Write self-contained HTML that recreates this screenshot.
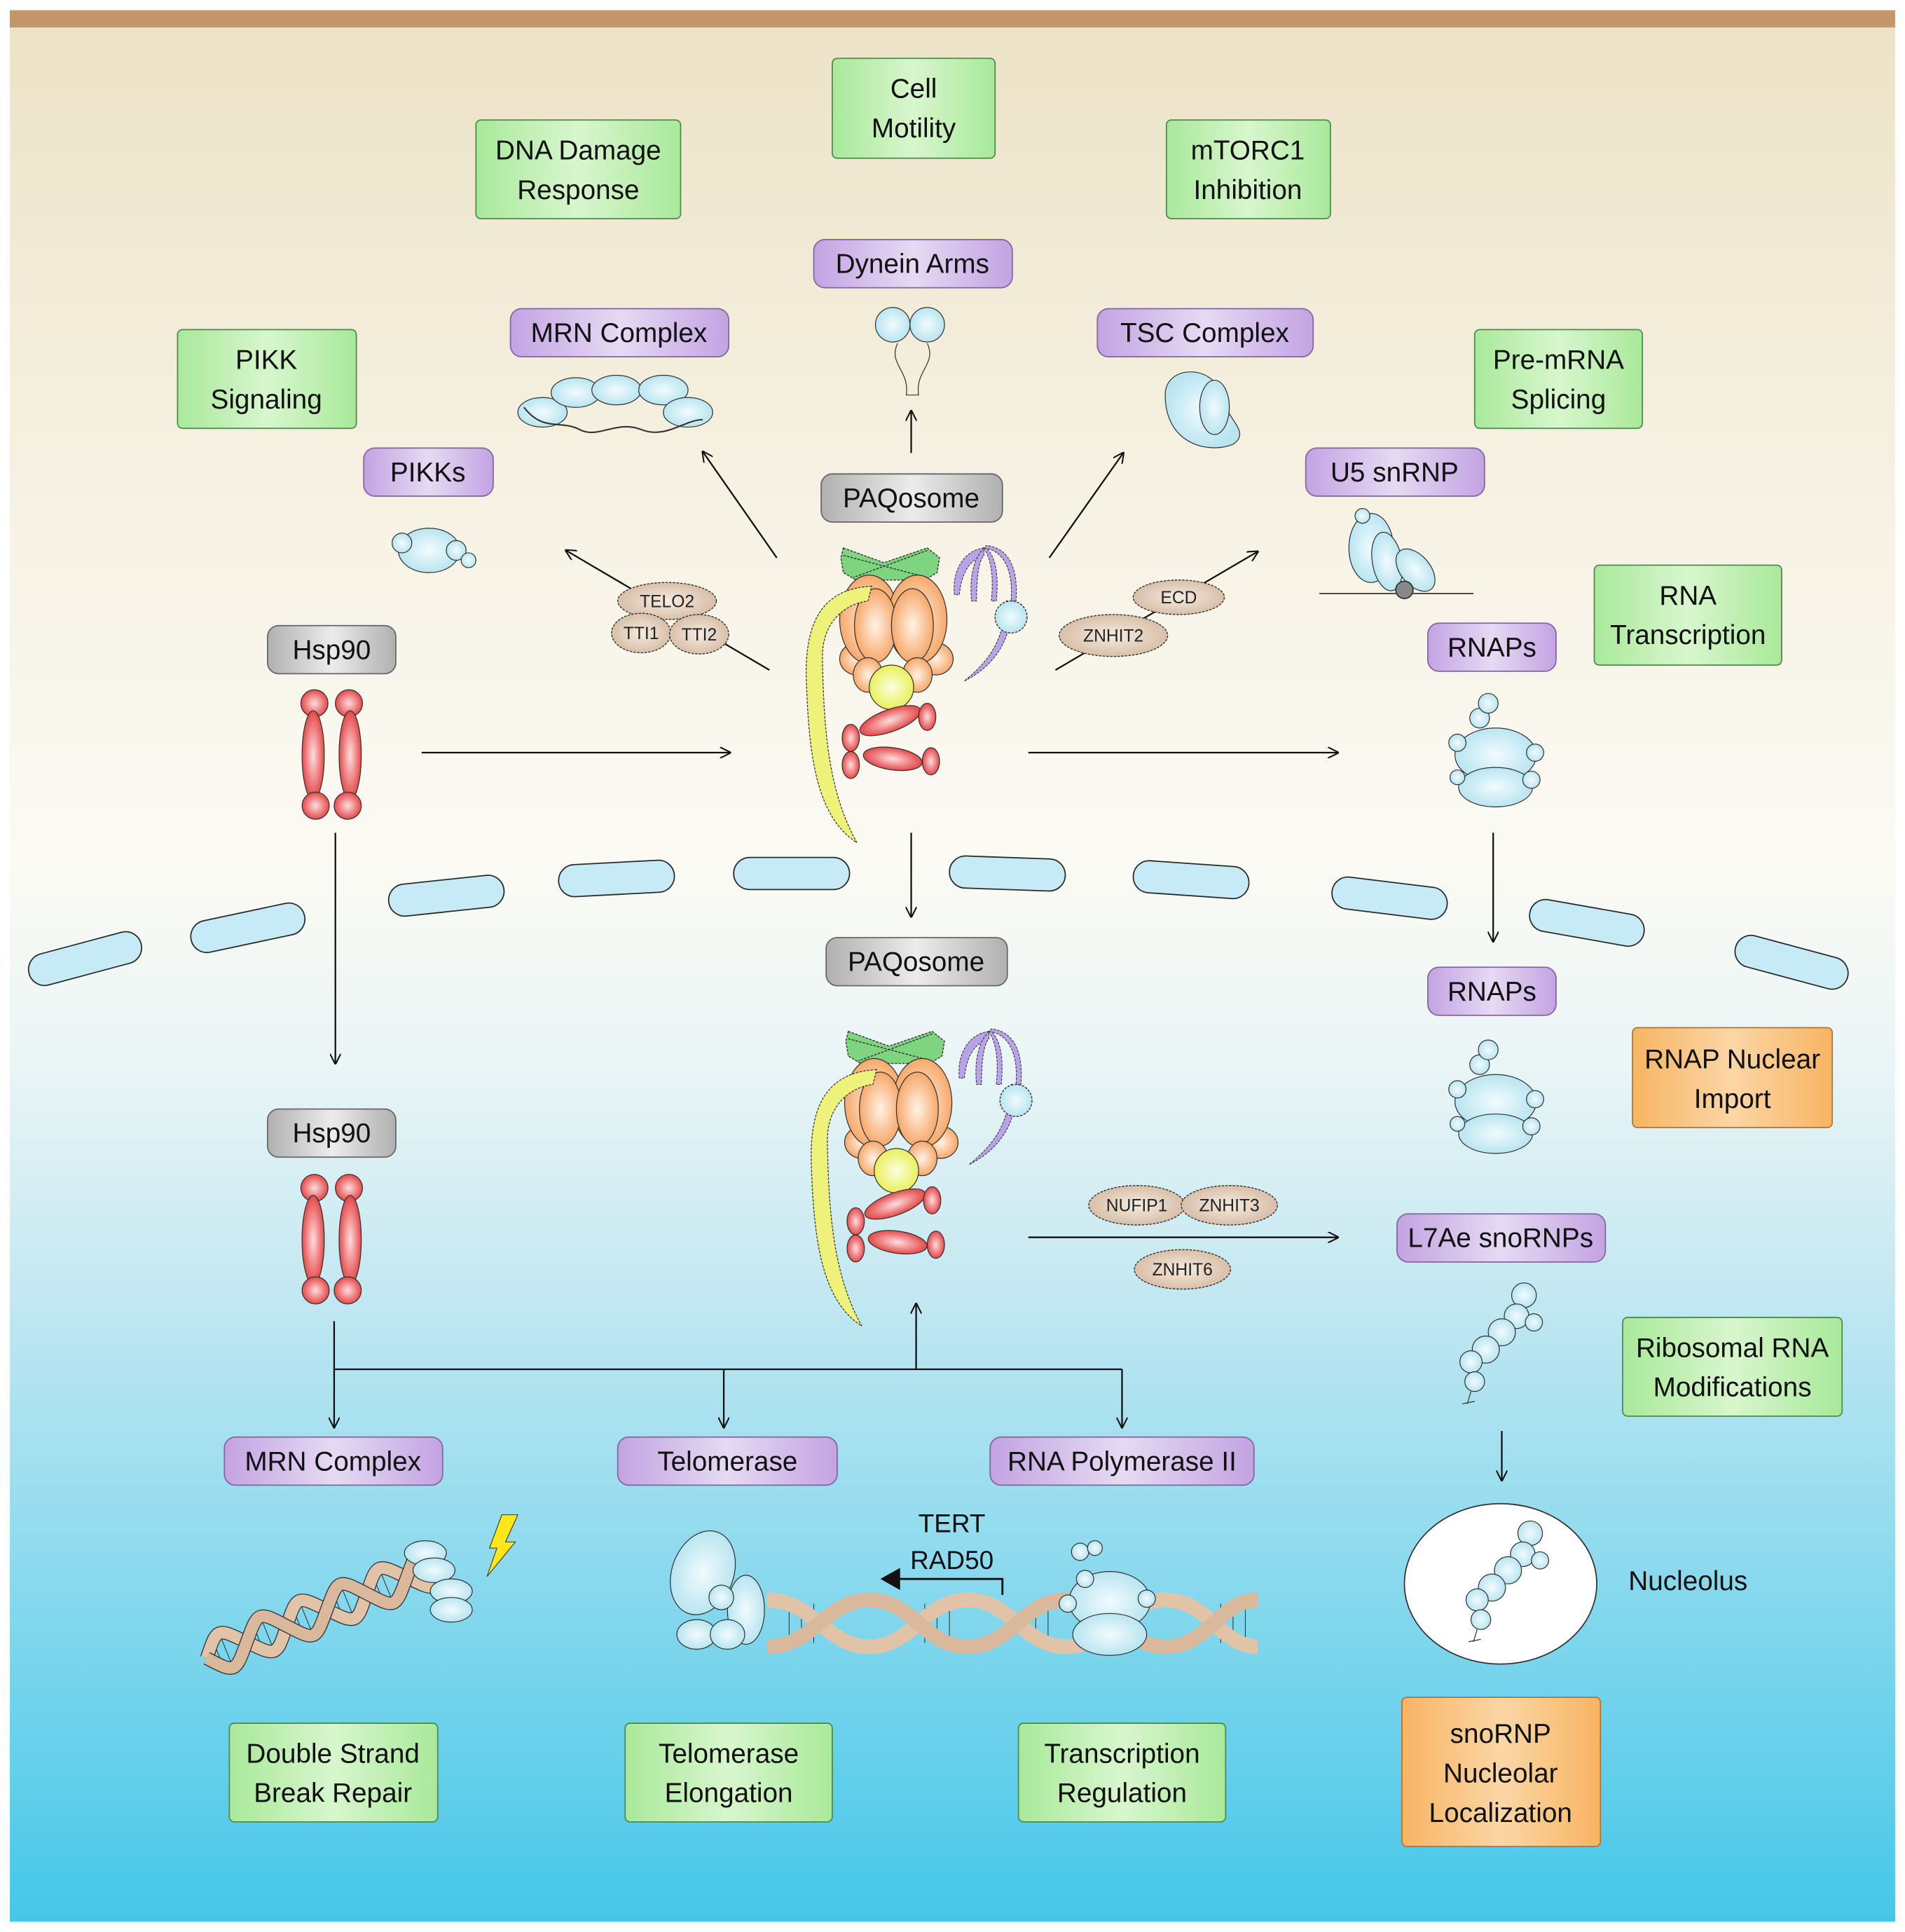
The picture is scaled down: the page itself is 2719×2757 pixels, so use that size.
<!DOCTYPE html>
<html><head><meta charset="utf-8"><style>
html,body{margin:0;padding:0;background:#fff}
svg{display:block}
text{font-family:"Liberation Sans",sans-serif}
</style></head><body>
<svg width="2719" height="2757" viewBox="0 0 1545 1566" xmlns="http://www.w3.org/2000/svg">
<defs>
<linearGradient id="bg" x1="0" y1="0" x2="0" y2="1">
<stop offset="0" stop-color="#ece2c6"/><stop offset="0.28" stop-color="#f7f3e6"/><stop offset="0.45" stop-color="#fbfaf4"/><stop offset="0.55" stop-color="#eaf5f6"/><stop offset="0.66" stop-color="#c7e9f2"/><stop offset="1" stop-color="#45c7e9"/>
</linearGradient>
<linearGradient id="gG" x1="0" y1="0" x2="1" y2="0"><stop offset="0" stop-color="#a9e99a"/><stop offset="0.5" stop-color="#d8f6cd"/><stop offset="1" stop-color="#a9e99a"/></linearGradient>
<linearGradient id="gP" x1="0" y1="0" x2="1" y2="0"><stop offset="0" stop-color="#c3a3e2"/><stop offset="0.5" stop-color="#e6daf3"/><stop offset="1" stop-color="#c3a3e2"/></linearGradient>
<linearGradient id="gO" x1="0" y1="0" x2="1" y2="0"><stop offset="0" stop-color="#f8b462"/><stop offset="0.5" stop-color="#fbd6a6"/><stop offset="1" stop-color="#f8b462"/></linearGradient>
<linearGradient id="gY" x1="0" y1="0" x2="1" y2="0"><stop offset="0" stop-color="#b0b0b0"/><stop offset="0.5" stop-color="#ececec"/><stop offset="1" stop-color="#b0b0b0"/></linearGradient>
<radialGradient id="rB"><stop offset="0" stop-color="#f2fbfd"/><stop offset="1" stop-color="#b9e5f1"/></radialGradient>
<radialGradient id="rO"><stop offset="0" stop-color="#fff3e6"/><stop offset="1" stop-color="#f7a86a"/></radialGradient>
<radialGradient id="rR"><stop offset="0" stop-color="#fdd"/><stop offset="1" stop-color="#e4484a"/></radialGradient>
<radialGradient id="rT"><stop offset="0" stop-color="#f6ece2"/><stop offset="1" stop-color="#d8bfa8"/></radialGradient>
<radialGradient id="rYl"><stop offset="0" stop-color="#fbffe0"/><stop offset="1" stop-color="#e9f05a"/></radialGradient>
<marker id="ar" viewBox="0 0 10 10" refX="9" refY="5" markerWidth="9" markerHeight="9" orient="auto" markerUnits="userSpaceOnUse"><path d="M0,0 L10,5 L0,10" fill="none" stroke="#111" stroke-width="1.3"/></marker>
<g id="paq">
<path d="M-38,-68 L-5,-56 L30,-68 L40,-60 L38,-48 L28,-42 L-28,-42 L-38,-48 L-40,-60 Z" fill="#7fd47f" stroke="#333" stroke-width="0.8" stroke-dasharray="2,1"/>
<path d="M-38,-62 L30,-44 M30,-66 L-30,-44" stroke="#333" stroke-width="0.8" stroke-dasharray="2,1"/>
<g fill="#b9a3e8" stroke="#333" stroke-width="0.6" stroke-dasharray="2,1">
<path d="M76,-68 C60,-66 50,-50 52,-30 L56,-30 C58,-48 64,-58 76,-62 Z"/>
<path d="M76,-68 C68,-60 64,-45 66,-25 L70,-25 C70,-45 72,-58 76,-62 Z"/>
<path d="M76,-68 C82,-58 84,-45 82,-25 L86,-25 C88,-45 86,-60 78,-68 Z"/>
<path d="M76,-68 C92,-66 100,-50 98,-25 L102,-25 C104,-52 96,-68 78,-70 Z"/>
<path d="M98,-25 C100,10 80,30 60,40 C78,25 92,10 94,-25 Z"/>
</g>
<circle cx="98" cy="-12" r="13" fill="url(#rB)" stroke="#333" stroke-width="0.8" stroke-dasharray="2,1"/>
<ellipse cx="-27" cy="22" rx="14" ry="13" fill="url(#rO)" stroke="#333" stroke-width="0.7"/>
<ellipse cx="37" cy="22" rx="14" ry="13" fill="url(#rO)" stroke="#333" stroke-width="0.7"/>
<ellipse cx="-17" cy="-10" rx="24" ry="36" fill="url(#rO)" stroke="#333" stroke-width="0.7"/>
<ellipse cx="22" cy="-10" rx="24" ry="36" fill="url(#rO)" stroke="#333" stroke-width="0.7"/>
<ellipse cx="-12" cy="-5" rx="17" ry="30" fill="url(#rO)" stroke="#333" stroke-width="0.7"/>
<ellipse cx="18" cy="-5" rx="17" ry="30" fill="url(#rO)" stroke="#333" stroke-width="0.7"/>
<ellipse cx="-18" cy="35" rx="12" ry="14" fill="url(#rO)" stroke="#333" stroke-width="0.7"/>
<ellipse cx="22" cy="35" rx="12" ry="14" fill="url(#rO)" stroke="#333" stroke-width="0.7"/>
<circle cx="1" cy="45" r="18" fill="url(#rYl)" stroke="#333" stroke-width="0.7"/>
<path d="M-15,-37 C-50,-35 -70,-15 -68,40 C-66,100 -60,150 -27,171 C-50,130 -54,80 -55,20 C-55,-5 -40,-22 -18,-25 Z" fill="#eef27a" stroke="#333" stroke-width="0.7" stroke-dasharray="2,1"/>
<ellipse cx="0" cy="72" rx="26" ry="9" transform="rotate(-20 0 72)" fill="url(#rR)" stroke="#333" stroke-width="0.7"/>
<ellipse cx="2" cy="103" rx="24" ry="9" transform="rotate(8 2 103)" fill="url(#rR)" stroke="#333" stroke-width="0.7"/>
<ellipse cx="-32" cy="86" rx="7" ry="11" fill="url(#rR)" stroke="#333" stroke-width="0.7"/>
<ellipse cx="-32" cy="108" rx="7" ry="11" fill="url(#rR)" stroke="#333" stroke-width="0.7"/>
<ellipse cx="30" cy="69" rx="7" ry="11" fill="url(#rR)" stroke="#333" stroke-width="0.7"/>
<ellipse cx="33" cy="105" rx="7" ry="11" fill="url(#rR)" stroke="#333" stroke-width="0.7"/>
</g>
<g id="hsp">
<circle cx="-14" cy="-42" r="11" fill="url(#rR)" stroke="#333" stroke-width="0.7"/>
<circle cx="14" cy="-42" r="11" fill="url(#rR)" stroke="#333" stroke-width="0.7"/>
<ellipse cx="-15" cy="0" rx="9" ry="36" fill="url(#rR)" stroke="#333" stroke-width="0.7"/>
<ellipse cx="15" cy="0" rx="9" ry="36" fill="url(#rR)" stroke="#333" stroke-width="0.7"/>
<circle cx="-13" cy="41" r="11" fill="url(#rR)" stroke="#333" stroke-width="0.7"/>
<circle cx="13" cy="41" r="11" fill="url(#rR)" stroke="#333" stroke-width="0.7"/>
</g>
<g id="rnap" fill="url(#rB)" stroke="#333" stroke-width="0.7">
<ellipse cx="3" cy="0" rx="33" ry="22"/><ellipse cx="3" cy="26" rx="30" ry="16"/>
<circle cx="-10" cy="-30" r="8"/><circle cx="-3" cy="-42" r="8"/><circle cx="-28" cy="-10" r="7"/><circle cx="35" cy="-2" r="7"/><circle cx="-28" cy="18" r="6"/><circle cx="32" cy="20" r="7"/>
</g>
<g id="sno" fill="url(#rB)" stroke="#333" stroke-width="0.7">
<circle cx="28" cy="-42" r="10"/><circle cx="22" cy="-25" r="10"/><circle cx="10" cy="-12" r="11"/><circle cx="-3" cy="2" r="11"/><circle cx="-15" cy="12" r="9"/><circle cx="-12" cy="28" r="8"/><circle cx="36" cy="-20" r="7"/>
<path d="M-15,36 L-18,46 M-22,46 L-12,44" fill="none"/>
</g>
</defs>
<rect x="8" y="8" width="1529" height="1550" fill="url(#bg)"/>
<rect x="8" y="8" width="1529" height="14" fill="#c4976a"/>

<g fill="#c6ebf6" stroke="#2a2a2a" stroke-width="1">
<rect x="-47" y="-13" width="94" height="26" rx="13" transform="translate(69,777) rotate(-15)"/>
<rect x="-47" y="-13" width="94" height="26" rx="13" transform="translate(201,752) rotate(-12)"/>
<rect x="-47" y="-13" width="94" height="26" rx="13" transform="translate(362,726) rotate(-6)"/>
<rect x="-47" y="-13" width="94" height="26" rx="13" transform="translate(500,712) rotate(-3)"/>
<rect x="-47" y="-13" width="94" height="26" rx="13" transform="translate(642,708)"/>
<rect x="-47" y="-13" width="94" height="26" rx="13" transform="translate(817,708) rotate(2)"/>
<rect x="-47" y="-13" width="94" height="26" rx="13" transform="translate(966,713) rotate(4)"/>
<rect x="-47" y="-13" width="94" height="26" rx="13" transform="translate(1127,728) rotate(7)"/>
<rect x="-47" y="-13" width="94" height="26" rx="13" transform="translate(1287,748) rotate(10)"/>
<rect x="-47" y="-13" width="94" height="26" rx="13" transform="translate(1453,780) rotate(15)"/>
</g>

<g stroke="#111" stroke-width="1.3" fill="none" marker-end="url(#ar)">
<line x1="739" y1="367" x2="739" y2="333"/>
<line x1="630" y1="452" x2="570" y2="366"/>
<line x1="851" y1="452" x2="911" y2="367"/>
<line x1="624" y1="543" x2="459" y2="446"/>
<line x1="856" y1="543" x2="1020" y2="447"/>
<line x1="342" y1="610" x2="592" y2="610"/>
<line x1="834" y1="610" x2="1085" y2="610"/>
<line x1="272" y1="675" x2="272" y2="862"/>
<line x1="739" y1="675" x2="739" y2="743"/>
<line x1="1211" y1="675" x2="1211" y2="763"/>
<line x1="834" y1="1003" x2="1085" y2="1003"/>
<line x1="1218" y1="1160" x2="1218" y2="1200"/>
<line x1="271" y1="1110" x2="271" y2="1157"/>
<line x1="587" y1="1110" x2="587" y2="1157"/>
<line x1="910" y1="1110" x2="910" y2="1157"/>
<line x1="743" y1="1110" x2="743" y2="1057"/>
</g>
<path d="M271,1071 L271,1110 L910,1110" stroke="#111" stroke-width="1.3" fill="none"/>
<path d="M813,1293 L813,1280 L728,1280" stroke="#111" stroke-width="1.6" fill="none"/>
<path d="M714,1280 L730,1271 L730,1289 Z" fill="#111"/>

<g stroke="#333" stroke-width="0.8" stroke-dasharray="2,1" fill="url(#rT)">
<ellipse cx="541" cy="487" rx="40" ry="15"/>
<ellipse cx="520" cy="513" rx="24" ry="16"/>
<ellipse cx="567" cy="514" rx="24" ry="16"/>
<ellipse cx="956" cy="484" rx="37" ry="14"/>
<ellipse cx="903" cy="515" rx="44" ry="17"/>
<ellipse cx="922" cy="977" rx="39" ry="16"/>
<ellipse cx="997" cy="977" rx="39" ry="16"/>
<ellipse cx="959" cy="1029" rx="39" ry="16"/>
</g>
<g font-size="14" text-anchor="middle" fill="#222">
<text x="541" y="492">TELO2</text><text x="520" y="518">TTI1</text><text x="567" y="519">TTI2</text>
<text x="956" y="489">ECD</text><text x="903" y="520">ZNHIT2</text>
<text x="922" y="982">NUFIP1</text><text x="997" y="982">ZNHIT3</text><text x="959" y="1034">ZNHIT6</text>
</g>

<use href="#paq" x="722" y="512"/>
<use href="#paq" x="726" y="904"/>
<use href="#hsp" x="269" y="612"/>
<use href="#hsp" x="269" y="1005"/>
<use href="#rnap" x="1210" y="612"/>
<use href="#rnap" x="1210" y="893"/>
<use href="#sno" x="1208" y="1092"/>
<ellipse cx="1217" cy="1284" rx="78" ry="65" fill="#fff" stroke="#333" stroke-width="1"/>
<use href="#sno" x="1213" y="1285"/>
<g fill="url(#rB)" stroke="#333" stroke-width="0.7">
<ellipse cx="440" cy="334" rx="20" ry="12"/><ellipse cx="467" cy="318" rx="20" ry="12"/><ellipse cx="500" cy="316" rx="20" ry="12"/><ellipse cx="538" cy="316" rx="20" ry="12"/><ellipse cx="558" cy="334" rx="20" ry="12"/>
<circle cx="724" cy="263" r="14"/><circle cx="752" cy="263" r="14"/>
<path d="M728,278 C720,295 738,300 735,320 L745,320 C742,300 760,295 752,278" fill="none"/>
<path d="M945,320 C945,295 985,295 990,320 C995,340 1015,350 1000,360 C980,368 945,360 945,320 Z"/>
<ellipse cx="985" cy="330" rx="12" ry="22"/>
<ellipse cx="348" cy="446" rx="25" ry="18"/><circle cx="326" cy="440" r="8"/><circle cx="370" cy="446" r="8"/><circle cx="380" cy="454" r="6"/>
<ellipse cx="1112" cy="444" rx="18" ry="28"/><ellipse cx="1125" cy="455" rx="12" ry="24" transform="rotate(-10 1125 455)"/><ellipse cx="1148" cy="462" rx="12" ry="20" transform="rotate(-40 1148 462)"/><circle cx="1105" cy="418" r="6"/>
</g>
<line x1="1070" y1="481" x2="1195" y2="481" stroke="#333" stroke-width="1"/>
<circle cx="1139" cy="478" r="7" fill="#888" stroke="#333"/>
<path d="M425,330 C440,350 455,340 470,348 C485,356 500,340 520,348 C540,356 555,340 570,340" fill="none" stroke="#333" stroke-width="1.2"/>

<!-- DSB helix -->
<g transform="translate(265,1305) rotate(-22)">
<g stroke="#333" stroke-width="0.6">
<line x1="-95" y1="-14" x2="-95" y2="14"/><line x1="-88" y1="-16" x2="-88" y2="16"/><line x1="-60" y1="-16" x2="-60" y2="16"/><line x1="-52" y1="-14" x2="-52" y2="14"/><line x1="-25" y1="-14" x2="-25" y2="14"/><line x1="-18" y1="-16" x2="-18" y2="16"/><line x1="10" y1="-16" x2="10" y2="16"/><line x1="18" y1="-14" x2="18" y2="14"/><line x1="45" y1="-14" x2="45" y2="14"/><line x1="52" y1="-16" x2="52" y2="16"/>
</g>
<path d="M-105,0 C-88,-20 -88,-20 -70,0 S-52,20 -35,0 S-18,-20 0,0 S18,20 35,0 S52,-20 70,0 S88,20 100,0" fill="none" stroke="#333" stroke-width="11"/>
<path d="M-105,0 C-88,-20 -88,-20 -70,0 S-52,20 -35,0 S-18,-20 0,0 S18,20 35,0 S52,-20 70,0 S88,20 100,0" fill="none" stroke="#e1c3a8" stroke-width="9.5"/>
<path d="M-105,0 C-88,20 -88,20 -70,0 S-52,-20 -35,0 S-18,20 0,0 S18,-20 35,0 S52,20 70,0 S88,-20 100,0" fill="none" stroke="#333" stroke-width="11"/>
<path d="M-105,0 C-88,20 -88,20 -70,0 S-52,-20 -35,0 S-18,20 0,0 S18,-20 35,0 S52,20 70,0 S88,-20 100,0" fill="none" stroke="#d9b89b" stroke-width="9.5"/>
</g>
<!-- telomere helix -->
<g stroke="#333" stroke-width="0.6">
<path d="M640,1300 V1332 M650,1300 V1332 M660,1300 V1332 M750,1300 V1332 M760,1300 V1332 M770,1300 V1332 M840,1300 V1332 M850,1300 V1332 M990,1300 V1332 M1000,1300 V1332 M1010,1300 V1332"/>
</g>
<path d="M622,1297 C660,1297 670,1335 705,1335 C740,1335 750,1297 785,1297 C820,1297 830,1335 865,1335 C900,1335 910,1297 945,1297 C980,1297 990,1335 1020,1335" fill="none" stroke="#e1c3a8" stroke-width="12"/>
<path d="M622,1335 C660,1335 670,1297 705,1297 C740,1297 750,1335 785,1335 C820,1335 830,1297 865,1297 C900,1297 910,1335 945,1335 C980,1335 990,1297 1020,1297" fill="none" stroke="#d9b89b" stroke-width="12"/>
<g fill="url(#rB)" stroke="#333" stroke-width="0.7">
<ellipse cx="345" cy="1259" rx="17" ry="10"/><ellipse cx="352" cy="1273" rx="17" ry="10"/><ellipse cx="366" cy="1290" rx="17" ry="10"/><ellipse cx="366" cy="1305" rx="17" ry="10"/>
<ellipse cx="570" cy="1275" rx="25" ry="35" transform="rotate(20 570 1275)"/><ellipse cx="605" cy="1305" rx="15" ry="28"/><circle cx="585" cy="1295" r="10"/><ellipse cx="565" cy="1325" rx="16" ry="12"/><ellipse cx="590" cy="1325" rx="14" ry="12"/>
<ellipse cx="900" cy="1298" rx="33" ry="24"/><ellipse cx="900" cy="1325" rx="30" ry="17"/><circle cx="876" cy="1258" r="7"/><circle cx="888" cy="1255" r="6"/><circle cx="880" cy="1280" r="7"/><circle cx="930" cy="1296" r="7"/><circle cx="866" cy="1300" r="7"/>
</g>
<path d="M407,1228 L420,1228 L410,1250 L418,1250 L395,1278 L403,1255 L397,1255 Z" fill="#ffe81a" stroke="#333" stroke-width="0.6"/>
<text x="772" y="1242" font-size="21" text-anchor="middle" fill="#111">TERT</text>
<text x="772" y="1272" font-size="21" text-anchor="middle" fill="#111">RAD50</text>
<text x="1369" y="1289" font-size="22" text-anchor="middle" fill="#111">Nucleolus</text>

<g stroke="#4d8a4d" stroke-width="1" fill="url(#gG)">
<rect x="675" y="47" width="132" height="81" rx="4"/>
<rect x="386" y="97" width="166" height="80" rx="4"/>
<rect x="946" y="97" width="133" height="80" rx="4"/>
<rect x="144" y="267" width="145" height="80" rx="4"/>
<rect x="1196" y="267" width="136" height="80" rx="4"/>
<rect x="1293" y="458" width="152" height="81" rx="4"/>
<rect x="1316" y="1068" width="178" height="80" rx="4"/>
<rect x="186" y="1397" width="169" height="80" rx="4"/>
<rect x="507" y="1397" width="168" height="80" rx="4"/>
<rect x="826" y="1397" width="168" height="80" rx="4"/>
</g>
<g stroke="#a8753a" stroke-width="1" fill="url(#gO)">
<rect x="1324" y="833" width="162" height="81" rx="4"/>
<rect x="1137" y="1376" width="161" height="121" rx="4"/>
</g>
<g stroke="#8265a0" stroke-width="1" fill="url(#gP)">
<rect x="660" y="194" width="161" height="39" rx="9"/>
<rect x="414" y="250" width="177" height="39" rx="9"/>
<rect x="890" y="250" width="175" height="39" rx="9"/>
<rect x="295" y="363" width="105" height="39" rx="9"/>
<rect x="1059" y="363" width="145" height="39" rx="9"/>
<rect x="1158" y="505" width="104" height="39" rx="9"/>
<rect x="1158" y="784" width="104" height="39" rx="9"/>
<rect x="1133" y="984" width="169" height="39" rx="9"/>
<rect x="182" y="1165" width="177" height="39" rx="9"/>
<rect x="501" y="1165" width="178" height="39" rx="9"/>
<rect x="803" y="1165" width="214" height="39" rx="9"/>
</g>
<g stroke="#666" stroke-width="1" fill="url(#gY)">
<rect x="666" y="384" width="147" height="39" rx="9"/>
<rect x="217" y="507" width="104" height="39" rx="9"/>
<rect x="670" y="760" width="147" height="39" rx="9"/>
<rect x="217" y="899" width="104" height="39" rx="9"/>
</g>
<g font-size="22" text-anchor="middle" fill="#111">
<text x="741" y="79">Cell</text><text x="741" y="111">Motility</text>
<text x="469" y="129">DNA Damage</text><text x="469" y="161">Response</text>
<text x="1012" y="129">mTORC1</text><text x="1012" y="161">Inhibition</text>
<text x="216" y="299">PIKK</text><text x="216" y="331">Signaling</text>
<text x="1264" y="299">Pre-mRNA</text><text x="1264" y="331">Splicing</text>
<text x="1369" y="490">RNA</text><text x="1369" y="522">Transcription</text>
<text x="1405" y="1100">Ribosomal RNA</text><text x="1405" y="1132">Modifications</text>
<text x="270" y="1429">Double Strand</text><text x="270" y="1461">Break Repair</text>
<text x="591" y="1429">Telomerase</text><text x="591" y="1461">Elongation</text>
<text x="910" y="1429">Transcription</text><text x="910" y="1461">Regulation</text>
<text x="1405" y="866">RNAP Nuclear</text><text x="1405" y="898">Import</text>
<text x="1217" y="1413">snoRNP</text><text x="1217" y="1445">Nucleolar</text><text x="1217" y="1477">Localization</text>
<text x="740" y="221">Dynein Arms</text>
<text x="502" y="277">MRN Complex</text>
<text x="977" y="277">TSC Complex</text>
<text x="347" y="390">PIKKs</text>
<text x="1131" y="390">U5 snRNP</text>
<text x="1210" y="532">RNAPs</text>
<text x="1210" y="811">RNAPs</text>
<text x="1217" y="1011">L7Ae snoRNPs</text>
<text x="270" y="1192">MRN Complex</text>
<text x="590" y="1192">Telomerase</text>
<text x="910" y="1192">RNA Polymerase II</text>
<text x="739" y="411">PAQosome</text>
<text x="269" y="534">Hsp90</text>
<text x="743" y="787">PAQosome</text>
<text x="269" y="926">Hsp90</text>
</g>
</svg>
</body></html>
